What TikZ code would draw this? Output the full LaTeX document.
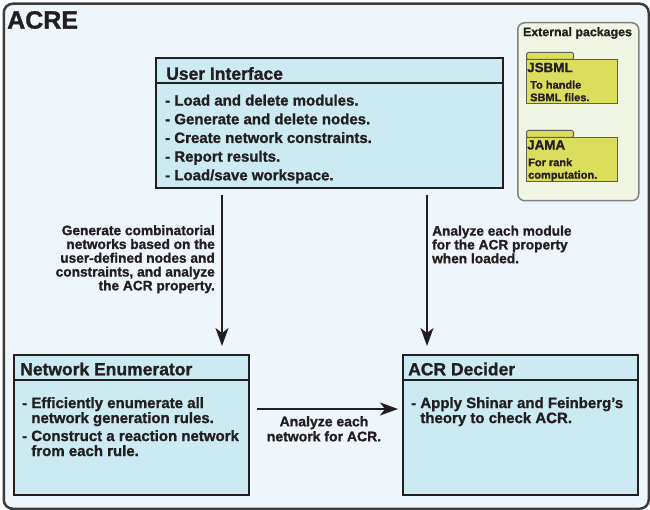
\documentclass[tikz,border=0pt]{standalone}
\usepackage{fontspec}
\setmainfont{Liberation Sans}[BoldFeatures={FakeBold=1.2}]
\usetikzlibrary{arrows.meta}
\definecolor{outerfill}{RGB}{238,246,252}
\definecolor{outerdraw}{RGB}{60,60,60}
\definecolor{boxfill}{RGB}{204,234,242}
\definecolor{ink}{RGB}{35,31,32}
\definecolor{extfill}{RGB}{240,245,228}
\definecolor{extdraw}{RGB}{125,132,125}
\definecolor{pkgfill}{RGB}{218,222,92}
\definecolor{pkgdraw}{RGB}{95,95,85}
\tikzset{
  mainbox/.style={draw=ink, line width=2.2pt, fill=boxfill, rectangle, inner sep=0pt, anchor=north west},
  divider/.style={draw=ink, line width=1.2pt},
  boxtitle/.style={anchor=west, inner sep=0pt, text=ink, font=\bfseries\fontsize{17.5}{18}\selectfont},
  boxbody/.style={anchor=north west, inner sep=0pt, text=ink, align=left},
  note/.style={inner sep=0pt, text=ink, font=\bfseries\fontsize{13.7}{13.8}\selectfont},
  arr/.style={draw=ink, line width=2pt, -{Stealth[length=18pt,width=13pt,inset=5pt]}},
  pkgtab/.style={draw=pkgdraw, line width=1pt, fill=pkgfill, rectangle, rounded corners=1.5pt, inner sep=0pt, anchor=north west},
  pkgbody/.style={draw=pkgdraw, line width=1pt, fill=pkgfill, rectangle, inner sep=0pt, anchor=north west},
  pkgname/.style={anchor=west, inner sep=0pt, text=ink, font=\bfseries\fontsize{13.4}{14}\selectfont},
  pkgtext/.style={anchor=north west, inner sep=0pt, text=ink, align=left, font=\bfseries\fontsize{11}{12.5}\selectfont}
}
\begin{document}
\begin{tikzpicture}[x=1pt,y=-1pt]
\useasboundingbox (0,0) rectangle (650,510);
% outer frame
\node[draw=outerdraw, line width=2.5pt, fill=outerfill, rounded corners=9pt, minimum width=645pt, minimum height=505pt, inner sep=0pt, anchor=north west] (acre) at (2.5,2.5) {};
\node[anchor=west, inner sep=0pt, text=ink, font=\bfseries\fontsize{25}{25}\selectfont] (acretitle) at (7,20) {ACRE};

% external packages
\node[draw=extdraw, line width=1.5pt, fill=extfill, rounded corners=7pt, minimum width=121pt, minimum height=178pt, inner sep=0pt, anchor=north west] (ext) at (517,22) {};
\node[anchor=center, inner sep=0pt, text=ink, font=\bfseries\fontsize{12.4}{13}\selectfont] (exttitle) at (577.5,33) {External packages};

\node[pkgtab, minimum width=47pt, minimum height=7pt] (jsbmltab) at (526,52) {};
\node[pkgbody, minimum width=91pt, minimum height=44pt] (jsbml) at (526,59) {};
\node[pkgname] (jsbmlname) at (527,67.5) {JSBML};
\node[pkgtext] (jsbmltext) at (530,80.5) {To handle\\SBML files.};

\node[pkgtab, minimum width=47pt, minimum height=7pt] (jamatab) at (526,130) {};
\node[pkgbody, minimum width=91pt, minimum height=44pt] (jama) at (526,137) {};
\node[pkgname] (jamaname) at (527,145) {JAMA};
\node[pkgtext] (jamatext) at (528,158) {For rank\\computation.};

% user interface
\node[mainbox, minimum width=347pt, minimum height=130pt] (ui) at (155,57) {};
\draw[divider] (ui.west |- 0,83) -- (ui.east |- 0,83);
\node[boxtitle] (uititle) at (166,73.5) {User Interface};
\node[boxbody, font=\bfseries\fontsize{15}{18.7}\selectfont] (uibody) at (165,94.5) {- Load and delete modules.\\- Generate and delete nodes.\\- Create network constraints.\\- Report results.\\- Load/save workspace.};

% network enumerator
\node[mainbox, minimum width=235pt, minimum height=140pt] (ne) at (13,354) {};
\draw[divider] (ne.west |- 0,380) -- (ne.east |- 0,380);
\node[boxtitle] (netitle) at (20,369) {Network Enumerator};
\node[boxbody, font=\bfseries\fontsize{15}{15}\selectfont] (nebody) at (22,397) {- Efficiently enumerate all\\\hphantom{- }network generation rules.\\[3pt]- Construct a reaction network\\\hphantom{- }from each rule.};

% ACR decider
\node[mainbox, minimum width=235pt, minimum height=140pt] (acr) at (402,354) {};
\draw[divider] (acr.west |- 0,380) -- (acr.east |- 0,380);
\node[boxtitle] (acrtitle) at (408,369) {ACR Decider};
\node[boxbody, font=\bfseries\fontsize{15}{15}\selectfont] (acrbody) at (411,397) {- Apply Shinar and Feinberg's\\\hphantom{- }theory to check ACR.};

% connectors
\coordinate (lx) at (222,0);
\coordinate (rx) at (427,0);
\draw[arr, shorten <=6pt, shorten >=8pt] (ui.south -| lx) -- (ne.north -| lx);
\draw[arr, shorten <=6pt, shorten >=8pt] (ui.south -| rx) -- (acr.north -| rx);
\draw[arr, shorten <=7pt, shorten >=4pt] (ne.east |- 0,409) -- (acr.west |- 0,409);

% connector labels
\node[note, anchor=north east, align=right] (lnote) at (215,225) {Generate combinatorial\\networks based on the\\user-defined nodes and\\constraints, and analyze\\the ACR property.};
\node[note, anchor=north west, align=left] (rnote) at (432,225.5) {Analyze each module\\for the ACR property\\when loaded.};
\node[note, anchor=north, align=center, font=\bfseries\fontsize{14}{15}\selectfont] (hnote) at (324,416) {Analyze each\\network for ACR.};
\end{tikzpicture}
\end{document}
